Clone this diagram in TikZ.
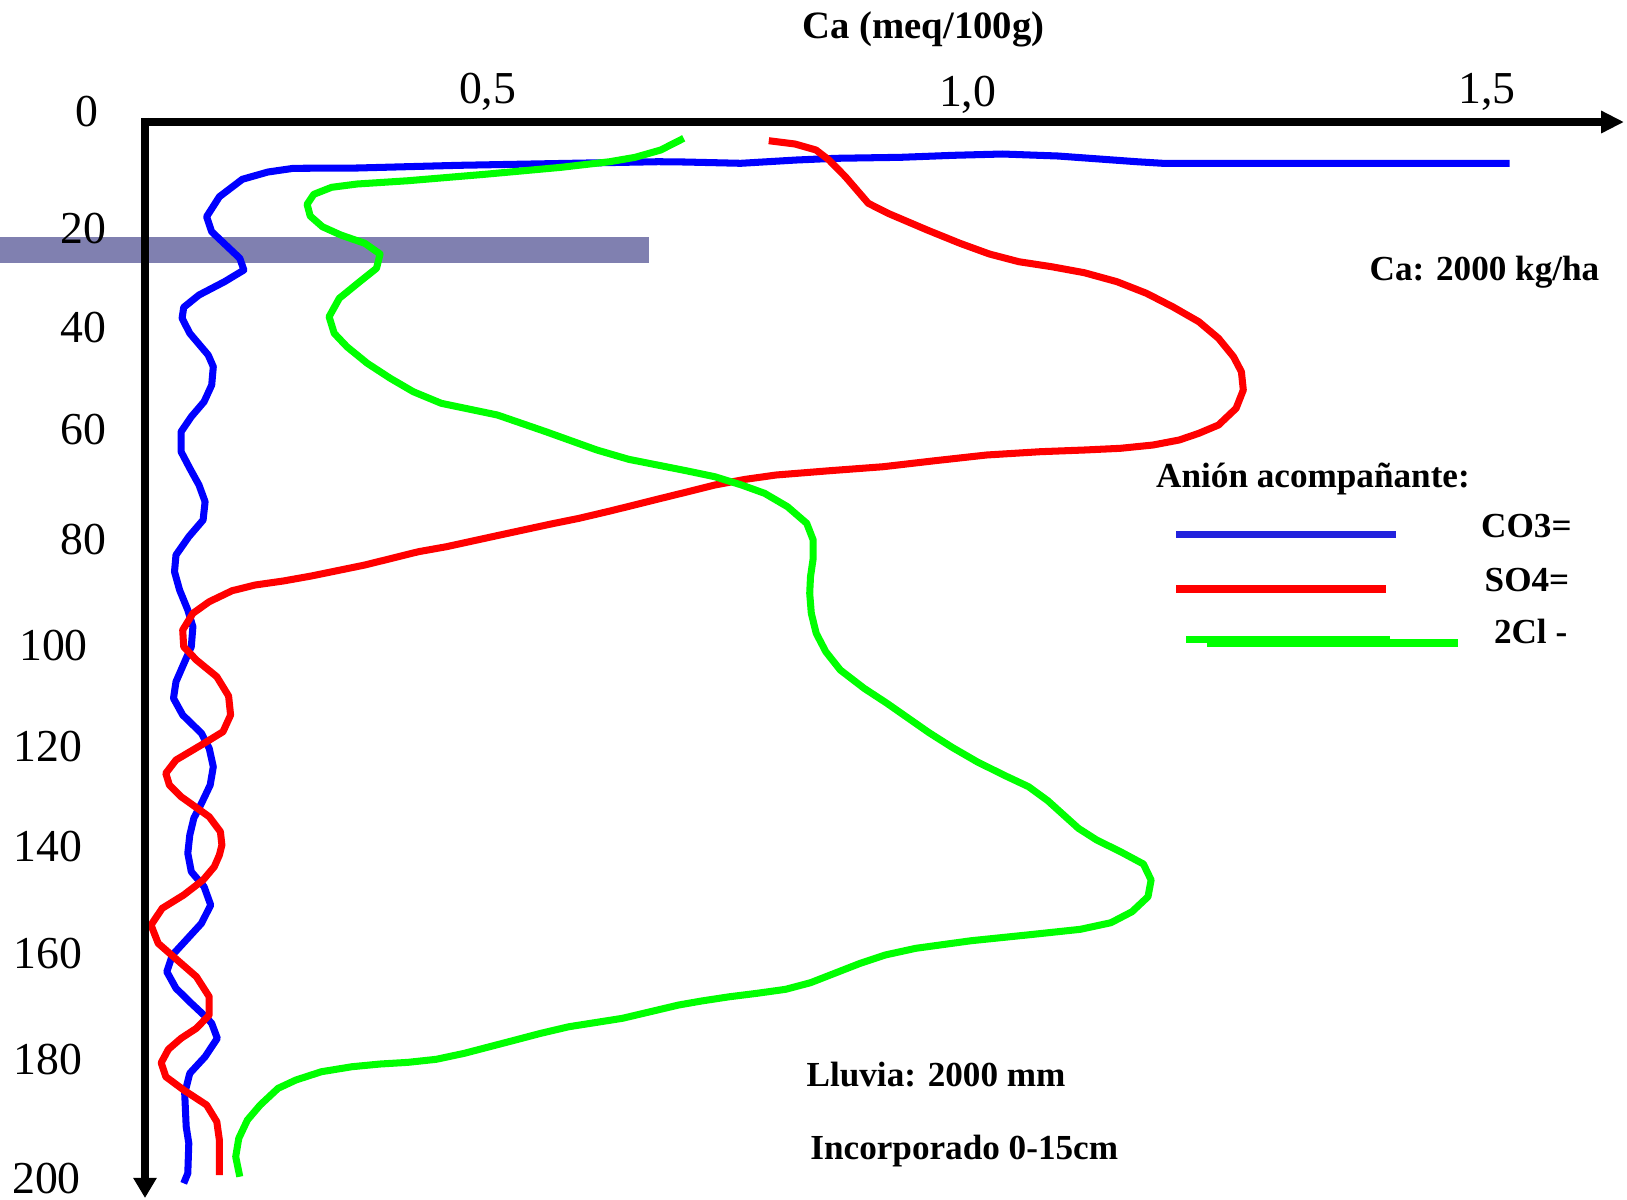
\documentclass[tikz,border=0pt]{standalone}
\usepackage{fontspec}
\setmainfont{Liberation Serif}
\usetikzlibrary{arrows.meta}
\definecolor{barcol}{RGB}{128,128,176}
\definecolor{legblue}{RGB}{34,34,221}
\begin{document}
\begin{tikzpicture}[x={(0.01cm,0)},y={(0,-0.01cm)},
  tick/.style={font=\fontsize{13}{13}\selectfont,inner sep=0pt},
  lbl/.style={font=\fontsize{10}{12}\selectfont\bfseries,inner sep=0pt},
  curve/.style={line width=2pt,line join=round},
  legline/.style={line width=2.2pt},
  axisline/.style={line width=2.3pt}]
\useasboundingbox (0,0) rectangle (1627,1199);
% highlighted band
\fill[barcol] (0,237) rectangle (649,262.7);
% blue curve (CO3=)
\draw[curve,blue] (1509.7,163.3) -- (1162.8,163.3) -- (1136.6,161.7) -- (1058,156) -- (1002.5,154) -- (953.4,155.3) -- (901,157.3) -- (835.6,158.3) -- (796.3,160) -- (740.7,163.3) -- (685,162) -- (658.2,161.7) -- (459.2,165.3) -- (357.1,168) -- (293.4,168.3) -- (267.9,172) -- (242.3,179.3) -- (219.4,196.7) -- (206.6,216.7) -- (211.7,231.7) -- (239.8,258.3) -- (243.9,270) -- (224.5,281.7) -- (199,295) -- (183.7,307.3) -- (182.1,318.3) -- (189.8,333.3) -- (208.2,355) -- (213.3,366.7) -- (211.7,385) -- (204.1,401.7) -- (191.3,416.7) -- (181.1,431.7) -- (181.1,451.7) -- (189.8,468.3) -- (199,485) -- (205.1,501.7) -- (203.1,520) -- (188.8,536.7) -- (176,555) -- (174.5,571.7) -- (179.6,590) -- (187.8,610) -- (192.9,626.7) -- (191.3,646.7) -- (184.7,661.7) -- (176,681.7) -- (173.5,698.3) -- (182.7,715) -- (201.5,733.3) -- (209.2,748.3) -- (213.3,766.7) -- (210.2,785) -- (201.5,803.3) -- (193.9,818) -- (189.8,835) -- (187.8,853.3) -- (191.3,871.7) -- (204.1,886.7) -- (210.7,905) -- (201.5,923.3) -- (186.2,940) -- (172.4,955) -- (166.8,971.7) -- (176,988.3) -- (191.3,1003.3) -- (205.6,1016.7) -- (211.7,1023.3) -- (217.3,1038.3) -- (205.1,1056.7) -- (189.8,1073.3) -- (184.7,1093.3) -- (186.2,1126.7) -- (188.8,1143.3) -- (187.8,1173.3) -- (183.7,1183.3);
% red curve (SO4=)
\draw[curve,red] (768.8,140.7) -- (795,144) -- (816,150) -- (829,160) -- (845.4,176.7) -- (868.3,203.3) -- (888,213.3) -- (927.2,230) -- (960,243.3) -- (989.4,254) -- (1018.8,261.7) -- (1051.6,266.7) -- (1084.3,272.7) -- (1117,281.7) -- (1146.5,293.3) -- (1172.6,306.7) -- (1198.8,321.7) -- (1218.5,338.3) -- (1233.5,356.7) -- (1241.4,371.7) -- (1243.3,390) -- (1236.1,408.3) -- (1218.5,425) -- (1198.8,433.3) -- (1179.2,440) -- (1153,445) -- (1120.3,448.3) -- (1084.3,450) -- (1040.1,451.7) -- (986.5,455) -- (934.9,460.7) -- (883.2,466.7) -- (829.6,470.7) -- (776,475) -- (745.4,479.3) -- (714.8,485) -- (688,491.7) -- (661.2,498.3) -- (634.4,505) -- (607.1,511.7) -- (579.1,518.3) -- (551,524) -- (500,535) -- (446.4,546.7) -- (418.4,551.7) -- (364.8,565) -- (311.2,576) -- (283.2,581) -- (255.1,585) -- (232.1,590.7) -- (209.2,601.7) -- (192.9,613.3) -- (182.7,630) -- (183.7,646.7) -- (196.4,660) -- (216.8,676.7) -- (228.6,696) -- (230.6,715) -- (223,731.7) -- (204.1,743.3) -- (176,760) -- (165.8,773.3) -- (169.4,785) -- (181.1,796.7) -- (209.2,816.7) -- (220.4,831.7) -- (221.9,845) -- (219.4,855) -- (214.3,866.7) -- (203.1,880) -- (183.7,895) -- (162.2,908.3) -- (151,925) -- (158.2,943.3) -- (173.5,956.7) -- (196.4,976.7) -- (209.2,996.7) -- (209.2,1015) -- (196.4,1028.3) -- (181.1,1038.3) -- (168.4,1049.3) -- (161.2,1062.7) -- (165.8,1076.7) -- (183.7,1090) -- (206.6,1105) -- (216.8,1121.7) -- (219.4,1140) -- (219.4,1175);
% green curve (2Cl -)
\draw[curve,green] (683.7,138.3) -- (660.7,150) -- (635.2,157.3) -- (609.7,161.7) -- (561.2,167.3) -- (484.7,174.3) -- (408.2,180.7) -- (357.1,184) -- (331.6,187.3) -- (313.8,194.3) -- (307.1,204.3) -- (310.2,216) -- (322.4,226.7) -- (340.8,235) -- (364.8,243.3) -- (380.1,254) -- (376.5,268.3) -- (359.7,281.7) -- (339.3,298.3) -- (329.1,316.7) -- (334.2,333.3) -- (346.9,346.7) -- (367.3,363.3) -- (390.3,378.3) -- (413.3,391.7) -- (441.3,403.3) -- (497.4,415) -- (545.9,431.7) -- (596.9,450) -- (628.7,459.3) -- (657.4,465) -- (686.1,470.7) -- (714.8,476.7) -- (741.6,485) -- (764.6,493.3) -- (787.5,506.7) -- (806.7,523.3) -- (813.2,540) -- (813.2,558.3) -- (810.5,576.7) -- (809.7,593.3) -- (811.3,613.3) -- (816.2,633.3) -- (825.8,651.7) -- (840.3,670) -- (864.1,688.3) -- (887,703.3) -- (929.1,732.7) -- (952.1,747.3) -- (977,761.7) -- (1003.7,775) -- (1028.6,786.7) -- (1047.8,800.7) -- (1078.4,828.3) -- (1096.7,840) -- (1120.5,851.7) -- (1143.4,864) -- (1151.1,880) -- (1148,896.7) -- (1132,911.7) -- (1110.9,922.7) -- (1080.3,929.3) -- (1026.7,935) -- (971.2,940.7) -- (915.7,948.3) -- (885.1,955) -- (860.2,963.3) -- (810.5,982.7) -- (785.6,989.3) -- (756.9,993.3) -- (729.6,996.7) -- (701.4,1001) -- (678.6,1005) -- (622.4,1018.3) -- (568.9,1026.7) -- (540.8,1033.3) -- (515.3,1040) -- (464.3,1053.3) -- (436.2,1059.3) -- (408.2,1062.3) -- (380.1,1064) -- (352,1066.7) -- (321.4,1071.7) -- (295.9,1080) -- (278.1,1088.3) -- (260.2,1105) -- (247.4,1120) -- (238.8,1138.3) -- (235.7,1156.7) -- (239.8,1176.7);
% axes
\coordinate (O) at (145,122);
\coordinate (xend) at (1624,122);
\coordinate (yend) at (145,1198);
\draw[axisline,-{Triangle[length=6.5pt,width=6pt]}] (O) -- (xend);
\draw[axisline,-{Triangle[length=5.7pt,width=6.3pt]}] ([yshift=1.15pt]O) -- (yend);
% tick labels
\node[tick] (t0) at (86.7,111.7) {0};
\node[tick,anchor=base] (t05) at (487.6,103) {0,5};
\node[tick,anchor=base] (t10) at (967.6,106.7) {1,0};
\node[tick,anchor=base] (t15) at (1487,103.3) {1,5};
\node[tick] (d20) at (83.5,229) {20};
\node[tick] (d40) at (83.5,328) {40};
\node[tick] (d60) at (83.5,430) {60};
\node[tick] (d80) at (83.5,540) {80};
\node[tick] (d100) at (53.5,646) {100};
\node[tick] (d120) at (48,746.7) {120};
\node[tick] (d140) at (48,846.7) {140};
\node[tick] (d160) at (48,954) {160};
\node[tick] (d180) at (48,1059) {180};
\node[tick] (d200) at (46.5,1178) {200};
% titles and notes
\node[lbl,font=\fontsize{11}{13}\selectfont\bfseries,anchor=base] (title) at (923.5,38) {Ca (meq/100g)};
\node[lbl,anchor=base] (dose) at (1484.5,280) {Ca: 2000 kg/ha};
\node[lbl,anchor=base west] (leghead) at (1155.5,487) {Anión acompañante:};
\node[lbl,anchor=base west] (lco) at (1480.5,537.5) {CO3=};
\node[lbl,anchor=base west] (lso) at (1484,591.3) {SO4=};
\node[lbl,anchor=base west] (lcl) at (1493.3,643.4) {2Cl -};
\node[lbl,anchor=base west] (rain) at (805.9,1086.7) {Lluvia: 2000 mm};
\node[lbl,anchor=base west] (inc) at (809.7,1159) {Incorporado 0-15cm};
% legend lines
\coordinate (lb1) at (1176,534.6); \coordinate (lb2) at (1396,534.6);
\coordinate (lr1) at (1176,589); \coordinate (lr2) at (1386,589);
\coordinate (lg1) at (1186,639.5); \coordinate (lg2) at (1390,639.5);
\coordinate (lg3) at (1207,642.7); \coordinate (lg4) at (1458,642.7);
\draw[legline,legblue] (lb1) -- (lb2);
\draw[legline,red] (lr1) -- (lr2);
\draw[legline,green] (lg1) -- (lg2);
\draw[legline,green] (lg3) -- (lg4);
\end{tikzpicture}
\end{document}
